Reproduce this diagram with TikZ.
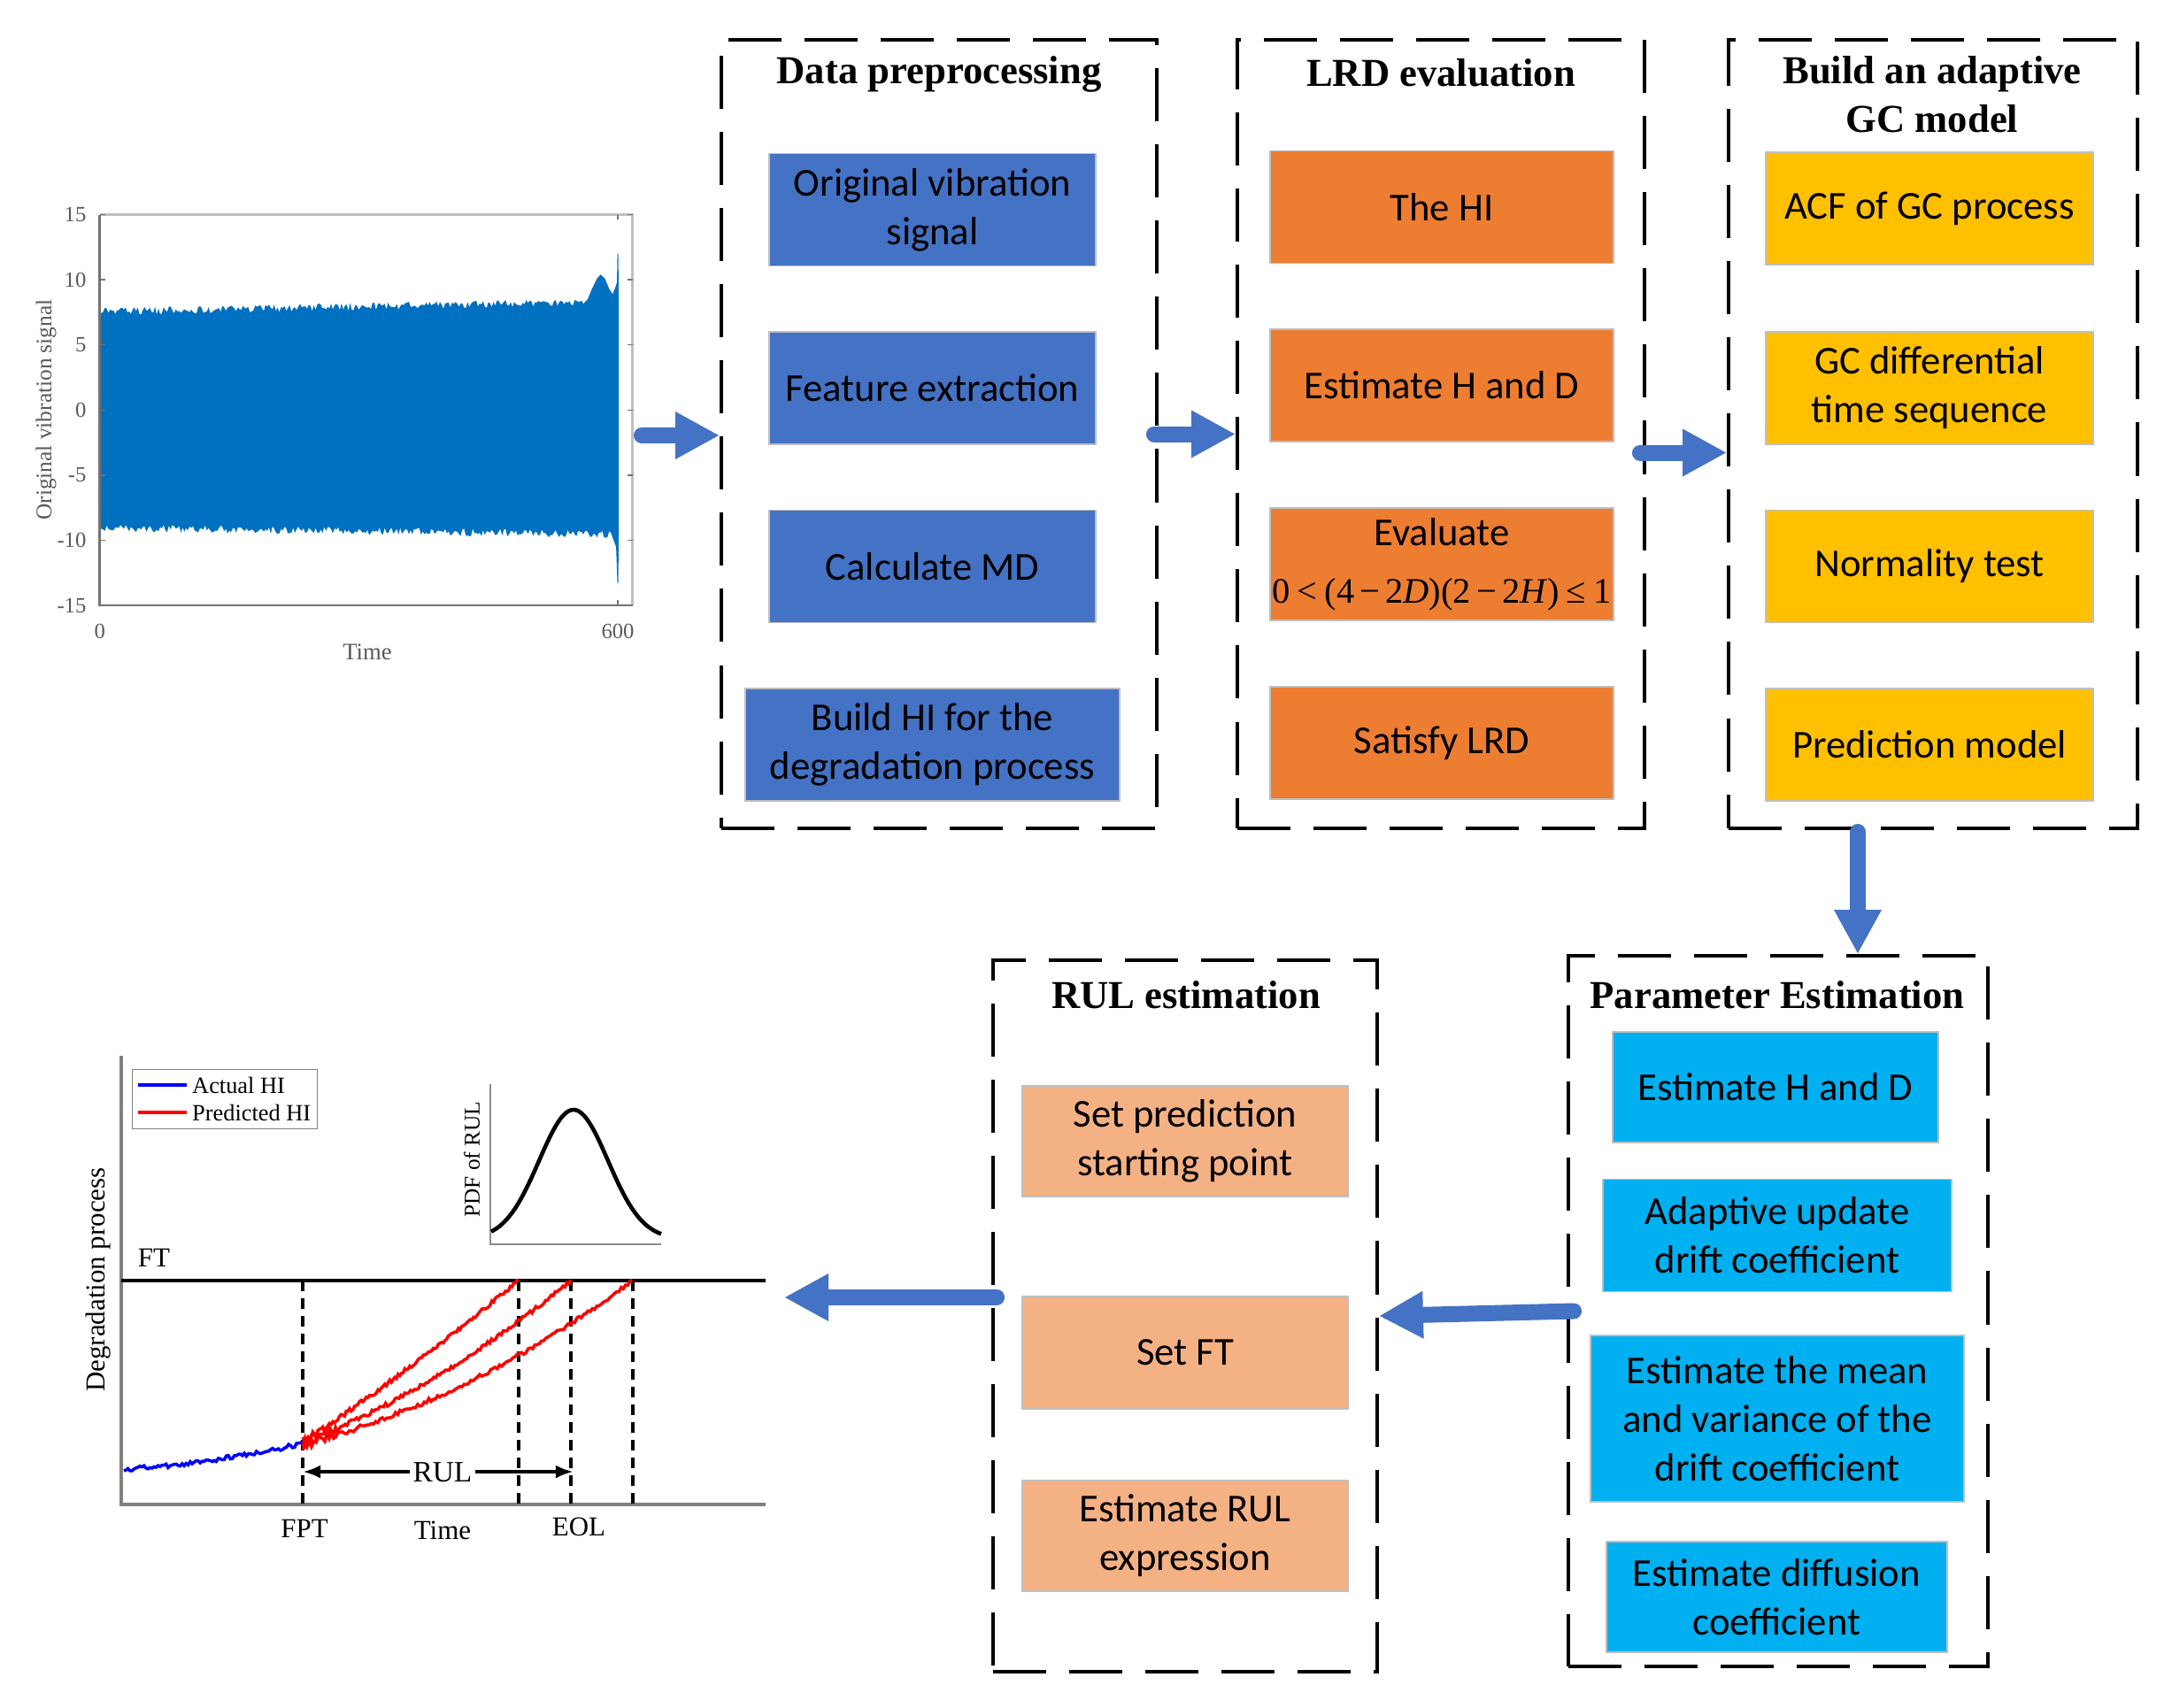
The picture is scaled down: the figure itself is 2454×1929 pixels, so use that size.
\documentclass[tikz,border=0pt]{standalone}
\usepackage{fontspec}
\setmainfont{Carlito}
\newfontfamily\serif{Liberation Serif}
\usetikzlibrary{arrows.meta,fit}
\definecolor{boxblue}{HTML}{4472C4}
\definecolor{boxorange}{HTML}{ED7D31}
\definecolor{boxyellow}{HTML}{FFC000}
\definecolor{boxcyan}{HTML}{00B0F0}
\definecolor{boxsalmon}{HTML}{F4B183}
\definecolor{sigblue}{HTML}{0070C0}

\begin{document}
\begin{tikzpicture}[x=0.01cm,y=-0.01cm,
    frame/.style={draw, line width=1.1pt, dash pattern=on 0.6cm off 0.26cm, inner sep=0pt},
    task/.style={draw=black!25, line width=0.4pt, minimum height=1.27cm, inner sep=0pt,
      align=center, font=\fontsize{12.7}{15.6}\selectfont},
    title/.style={font=\serif\bfseries\fontsize{12.7}{15.6}\selectfont, align=center},
    flow/.style={draw=boxblue, line width=0.18cm, line cap=round,
      -{Triangle[length=0.5cm,width=0.5cm]}},
    lbl/.style={font=\serif\fontsize{8.8}{10}\selectfont},
    tick/.style={font=\serif\fontsize{7}{8}\selectfont, text=black!65}]

  \useasboundingbox (0,0) rectangle (2454,1929);
  \pgfmathsetseed{7}

  % stages
  \node[frame, fit={(815,45) (1307,936)}] (dp) {};
  \node[frame, fit={(1398,45) (1858,936)}] (lrd) {};
  \node[frame, fit={(1953,45) (2415,936)}] (gc) {};
  \node[frame, fit={(1772,1080) (2246,1883)}] (pe) {};
  \node[frame, fit={(1122,1085) (1556,1889)}] (rul) {};

  \node[title] (tdp) at (1061,84) {Data preprocessing};
  \node[title] (tlrd) at (1628,82) {LRD evaluation};
  \node[title] (tgc) at (2183,107) {Build an adaptive\\GC model};
  \node[title] (tpe) at (2008,1124) {Parameter Estimation};
  \node[title] (trul) at (1340,1124) {RUL estimation};

  \node[task, fill=boxblue, minimum width=3.69cm] (b1) at (1053.5,237) {Original vibration\\signal};
  \node[task, fill=boxblue, minimum width=3.69cm] (b2) at (1053.5,438.5) {Feature extraction};
  \node[task, fill=boxblue, minimum width=3.69cm] (b3) at (1053.5,640) {Calculate MD};
  \node[task, fill=boxblue, minimum width=4.23cm] (b4) at (1053.5,841.5) {Build HI for the\\degradation process};

  \node[task, fill=boxorange, minimum width=3.88cm] (o1) at (1629,234) {The HI};
  \node[task, fill=boxorange, minimum width=3.88cm] (o2) at (1629,435.5) {Estimate H and D};
  \node[task, fill=boxorange, minimum width=3.88cm] (o3) at (1629,637.5) {Evaluate\\[0.1cm]
    {\serif\fontsize{11.5}{13}\selectfont 0\kern.2em<\kern.2em(4\kern.15em−\kern.15em2\textit{D})(2\kern.15em−\kern.15em2\textit{H})\kern.2em≤\kern.2em1}};
  \node[task, fill=boxorange, minimum width=3.88cm] (o4) at (1629,839.5) {Satisfy LRD};

  \node[task, fill=boxyellow, minimum width=3.7cm] (y1) at (2180,235.5) {ACF of GC process};
  \node[task, fill=boxyellow, minimum width=3.7cm] (y2) at (2180,438.5) {GC differential\\time sequence};
  \node[task, fill=boxyellow, minimum width=3.7cm] (y3) at (2180,640) {Normality test};
  \node[task, fill=boxyellow, minimum width=3.7cm] (y4) at (2180,841.5) {Prediction model};

  \node[task, fill=boxcyan, minimum width=3.68cm, minimum height=1.25cm] (c1) at (2006,1228.5) {Estimate H and D};
  \node[task, fill=boxcyan, minimum width=3.94cm] (c2) at (2008,1396) {Adaptive update\\drift coefficient};
  \node[task, fill=boxcyan, minimum width=4.22cm, minimum height=1.88cm] (c3) at (2008,1603) {Estimate the mean\\and variance of the\\drift coefficient};
  \node[task, fill=boxcyan, minimum width=3.85cm, minimum height=1.25cm] (c4) at (2007.5,1804.5) {Estimate diffusion\\coefficient};

  \node[task, fill=boxsalmon, minimum width=3.68cm, minimum height=1.25cm] (s1) at (1339,1289.5) {Set prediction\\starting point};
  \node[task, fill=boxsalmon, minimum width=3.68cm] (s2) at (1339,1528.5) {Set FT};
  \node[task, fill=boxsalmon, minimum width=3.68cm, minimum height=1.25cm] (s3) at (1339,1735.5) {Estimate RUL\\expression};

  % vibration signal plot
  \coordinate (sigout) at (725,492);
  \begin{scope}[shift={(112.7,463.3)}, x=0.009755cm, y=0.1471cm]
    \fill[sigblue] plot[domain=0:560, samples=281] (\x, {7.55+0.0013*\x+0.3*rand})
      -- (565,8.5) -- (570,9.3) -- (576,10.1) -- (580,10.4) -- (585,10.1) -- (590,9.3)
      -- (594,8.9) -- (597,9.4) -- (599,9.8) -- (599.5,12) -- (600.5,12) -- (601,9)
      -- (601,-9.5) -- (600.5,-13.3) -- (599.5,-13.3) -- (598,-10.5) -- (594,-9.8)
      -- plot[domain=592:0, samples=297] (\x, {-9.05-0.0008*\x-0.3*rand}) -- cycle;
    \draw[black!25, line width=0.8pt] (0,15) -- (617,15) -- (617,-15);
    \draw[black!55, line width=0.8pt] (0,15) -- (0,-15) -- (617,-15);
    \foreach \v in {-15,-10,-5,0,5,10,15} {
      \draw[black!55] (0,\v) -- (6,\v) (617,\v) -- (611,\v);
      \node[tick, anchor=east] at (-3,\v) {\v};
    }
    \draw[black!55] (600,-15) -- (600,-14.6) (600,15) -- (600,14.6);
    \node[tick, anchor=north] at (0,-15.6) {0};
    \node[tick, anchor=north] at (600,-15.6) {600};
  \end{scope}
  \node[tick, font=\serif\fontsize{7.6}{9}\selectfont] at (415,737) {Time};
  \node[tick, rotate=90, font=\serif\fontsize{7.2}{9}\selectfont] at (52,463) {Original vibration signal};

  % degradation plot
  \coordinate (degin) at (886,1466);
  \draw[black!50, line width=0.9pt] (137,1193) -- (137,1700) -- (865,1700);
  \draw[line width=1.3pt] (137,1447) -- (865,1447);
  \node[lbl] at (174,1421) {FT};
  \foreach \px in {342,586,645,715}
    \draw[line width=1.3pt, dash pattern=on 0.12cm off 0.08cm] (\px,1447) -- (\px,1700);
  \draw[blue, line width=1pt] plot[domain=0:1, samples=90, variable=\t]
    ({140+202*\t}, {1660-29*(0.4*\t+0.6*\t*\t)+2.6*rand});
  \draw[red, line width=1pt] plot[domain=0:1, samples=130, variable=\t]
    ({342+244*\t}, {1631-184*(0.9*\t+0.1*\t*\t)+(2.2+5*(1-\t)^8)*rand});
  \draw[red, line width=1pt] plot[domain=0:1, samples=140, variable=\t]
    ({342+303*\t}, {1631-184*(0.65*\t+0.35*\t*\t)+(2.2+5*(1-\t)^8)*rand});
  \draw[red, line width=1pt] plot[domain=0:1, samples=150, variable=\t]
    ({342+373*\t}, {1631-184*(0.5*\t+0.5*\t*\t)+(2.2+5*(1-\t)^8)*rand});
  \draw[{Latex[length=0.2cm]}-{Latex[length=0.2cm]}, line width=1.2pt] (342,1663) -- (648,1663);
  \node[lbl, fill=white, inner sep=1pt, font=\serif\fontsize{9.5}{10}\selectfont] at (500,1664) {RUL};
  \node[lbl] at (344,1727) {FPT};
  \node[lbl] at (500,1729) {Time};
  \node[lbl] at (654,1725) {EOL};
  \node[lbl, rotate=90] at (111,1446) {Degradation process};
  % legend
  \draw[black!50, fill=white] (149.5,1208.5) rectangle (358.7,1275.7);
  \draw[blue, line width=1.2pt] (156,1226) -- (211,1226);
  \draw[red, line width=1.2pt] (156,1257) -- (211,1257);
  \node[lbl, anchor=west, inner sep=1pt, font=\serif\fontsize{7.5}{9}\selectfont] at (213,1226) {Actual HI};
  \node[lbl, anchor=west, inner sep=1pt, font=\serif\fontsize{7.5}{9}\selectfont] at (213,1257) {Predicted HI};
  % pdf inset
  \draw[black!45, line width=0.8pt] (554,1225) -- (554,1406) -- (747,1406);
  \draw[line width=1.3pt] plot[domain=555:747, samples=80] (\x, {1400-146*exp(-((\x-648)/55)^2)});
  \node[lbl, rotate=90, font=\serif\fontsize{7.2}{9}\selectfont] at (533,1310) {PDF of RUL};

  % flow
  \draw[flow] (sigout) -- (sigout -| dp.west);
  \draw[flow] ([xshift=-0.05cm]dp.east) -- (lrd.west);
  \draw[flow] ([xshift=-0.07cm,yshift=-0.21cm]lrd.east) -- ([yshift=-0.21cm]gc.west);
  \draw[flow] ([xshift=-0.85cm,yshift=-0.02cm]gc.south) -- ([xshift=-0.85cm]gc.south |- pe.north);
  \draw[flow] ([xshift=0.08cm]pe.west) -- (rul.east);
  \draw[flow] ([xshift=0.06cm]rul.west |- degin) -- (degin);

\end{tikzpicture}
\end{document}
